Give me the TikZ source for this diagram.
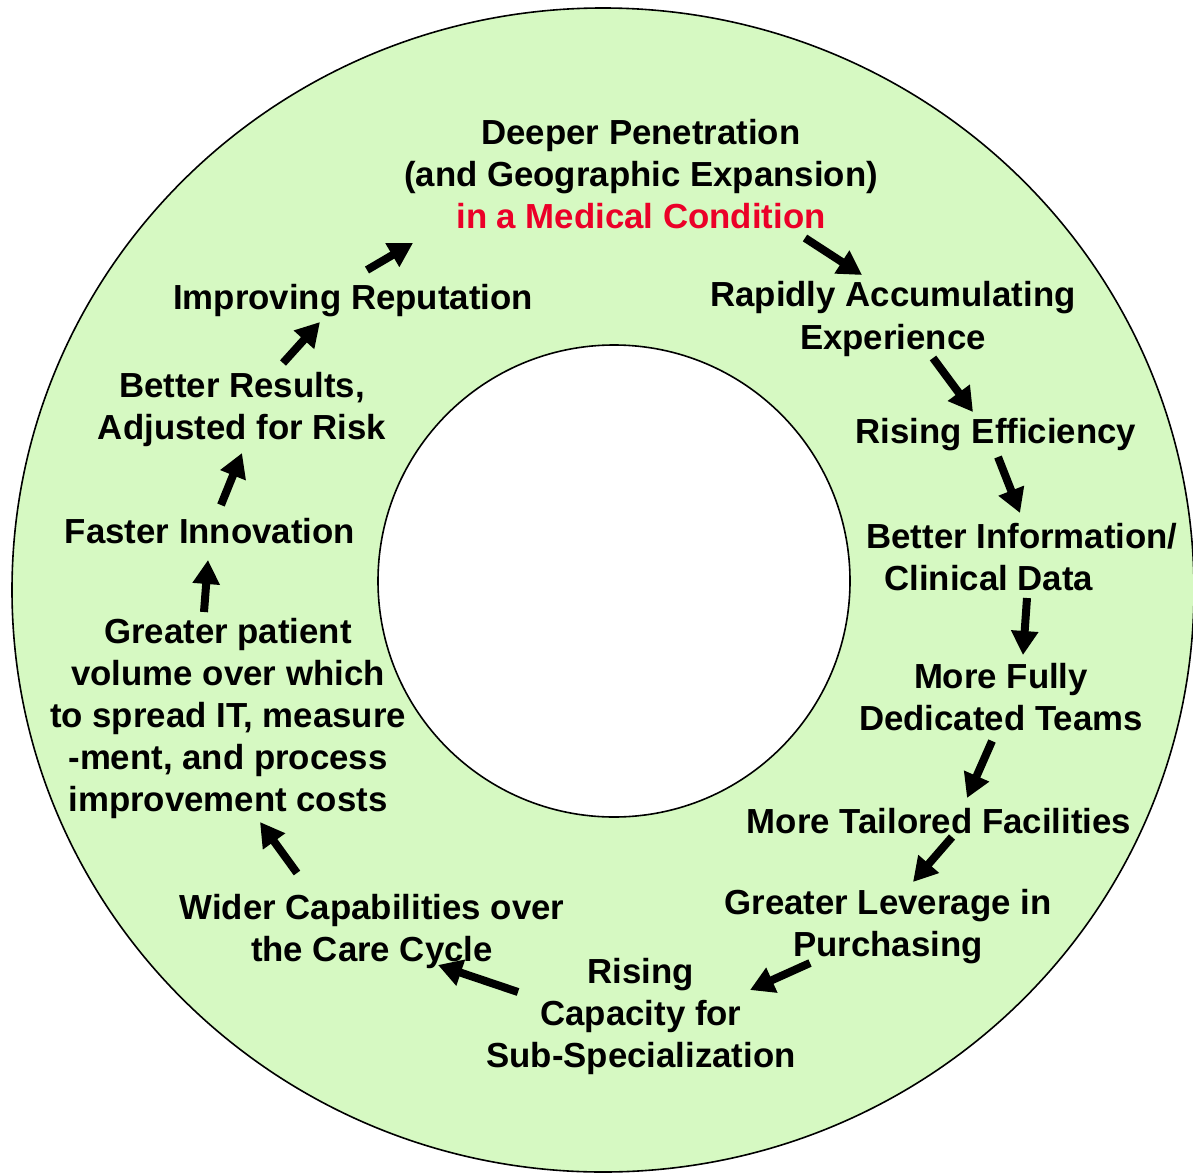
\documentclass[tikz,border=0pt]{standalone}
\usepackage{fontspec}
\setmainfont{Liberation Sans}
\usepackage{xcolor}
\usetikzlibrary{arrows.meta}

\definecolor{ringgreen}{RGB}{214,249,194}
\definecolor{condred}{RGB}{235,0,40}

\begin{document}
\begin{tikzpicture}[x=0.5pt, y=-0.5pt,
		stage/.style={align=center, inner sep=0pt, font=\fontsize{17.4}{21}\selectfont\bfseries},
		flow/.style={line width=4pt, -{Triangle[length=12pt, width=13pt]}},
		]
		\useasboundingbox (0,0) rectangle (1193,1172);
		\clip (0,0) rectangle (1193,1172);

		%Ring
		\filldraw[fill=ringgreen, draw=black, line width=0.8pt] (603,590) ellipse [x radius=591, y radius=582];
		\filldraw[fill=white, draw=black, line width=0.8pt] (614,581) circle [radius=236];

		%Nodes
		\node[stage] (deeper)      at (641,174)  {Deeper Penetration\\(and Geographic Expansion)\\\textcolor{condred}{in a Medical Condition}};
		\node[stage] (rapid)       at (893,319)  {Rapidly Accumulating\\Experience};
		\node[stage] (efficiency)  at (996,435)  {Rising Efficiency};
		\node[stage, align=left, anchor=west] (info) at (866,557) {Better Information/\\\hspace*{9pt}Clinical Data};
		\node[stage] (teams)       at (1001,697) {More Fully\\Dedicated Teams};
		\node[stage] (facilities)  at (939,821)  {More Tailored Facilities};
		\node[stage] (leverage)    at (888,927)  {Greater Leverage in\\Purchasing};
		\node[stage] (capacity)    at (641,1016) {Rising\\Capacity for\\Sub-Specialization};
		\node[stage] (wider)       at (372,931)  {Wider Capabilities over\\the Care Cycle};
		\node[stage] (volume)      at (228,718)  {Greater patient\\volume over which\\to spread IT, measure\\-ment, and process\\improvement costs};
		\node[stage] (faster)      at (210,531)  {Faster Innovation};
		\node[stage] (results)     at (242,409)  {Better Results,\\Adjusted for Risk};
		\node[stage] (reputation)  at (353,301)  {Improving Reputation};

		% Arrow ends
		\coordinate (deeper-out)     at (805,238);
		\coordinate (rapid-in)       at (862,275);
		\coordinate (rapid-out)      at (933,358);
		\coordinate (efficiency-in)  at (973,412);
		\coordinate (efficiency-out) at (998,457);
		\coordinate (info-in)        at (1020,513);
		\coordinate (info-out)       at (1027,598);
		\coordinate (teams-in)       at (1023,655);
		\coordinate (teams-out)      at (992,741);
		\coordinate (facilities-in)  at (967,798);
		\coordinate (facilities-out) at (952,837);
		\coordinate (leverage-in)    at (913,882);
		\coordinate (leverage-out)   at (810,963);
		\coordinate (capacity-in)    at (750,990);
		\coordinate (capacity-out)   at (518,992);
		\coordinate (wider-in)       at (438,965);
		\coordinate (wider-out)      at (297,873);
		\coordinate (volume-in)      at (260,822);
		\coordinate (volume-out)     at (204,612);
		\coordinate (faster-in)      at (208,560);
		\coordinate (faster-out)     at (221,505);
		\coordinate (results-in)     at (242,453);
		\coordinate (results-out)    at (283,363);
		\coordinate (reputation-in)  at (320,322);
		\coordinate (reputation-out) at (367,270);
		\coordinate (deeper-in)      at (413,243);

		%Lines
		\draw[flow] (deeper-out) -- (rapid-in);
		\draw[flow] (rapid-out) -- (efficiency-in);
		\draw[flow] (efficiency-out) -- (info-in);
		\draw[flow] (info-out) -- (teams-in);
		\draw[flow] (teams-out) -- (facilities-in);
		\draw[flow] (facilities-out) -- (leverage-in);
		\draw[flow] (leverage-out) -- (capacity-in);
		\draw[flow] (capacity-out) -- (wider-in);
		\draw[flow] (wider-out) -- (volume-in);
		\draw[flow] (volume-out) -- (faster-in);
		\draw[flow] (faster-out) -- (results-in);
		\draw[flow] (results-out) -- (reputation-in);
		\draw[flow] (reputation-out) -- (deeper-in);
	\end{tikzpicture}
\end{document}
